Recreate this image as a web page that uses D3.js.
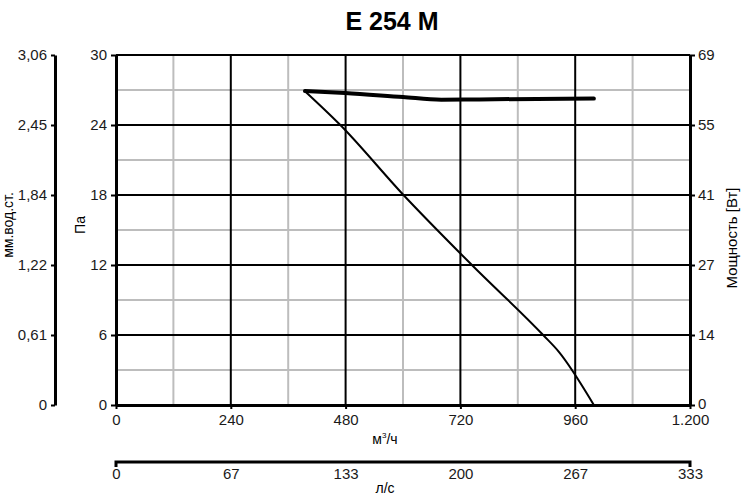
<!DOCTYPE html>
<html><head><meta charset="utf-8">
<script src="https://cdn.jsdelivr.net/npm/d3@7"></script>
<style>body{margin:0;background:#fff}svg{display:block}text{font-family:"Liberation Sans",Arial,sans-serif}</style>
</head><body><svg id="c" width="750" height="504"></svg>
<script>
const title = "E 254 M";
const flowTicks = [0, 240, 480, 720, 960, 1200];
const flowLabels = ["0", "240", "480", "720", "960", "1.200"];
const lsLabels = ["0", "67", "133", "200", "267", "333"];
const paTicks = [0, 6, 12, 18, 24, 30];
const mmLabels = ["0", "0,61", "1,22", "1,84", "2,45", "3,06"];
const wLabels = ["0", "14", "27", "41", "55", "69"];
const pressureQ = [395, 469, 601, 744, 893, 925, 999];
const pressureP = [26.9, 24, 18, 12, 6, 4.6, 0];
const powerQ = [395, 479, 600, 680, 760, 880, 999];
const powerW = [61.9, 61.5, 60.7, 60.2, 60.25, 60.35, 60.4];

const svg = d3.select("#c");
const L = 116, R = 690, T = 55, B = 405;
const x = d3.scaleLinear().domain([0, 1200]).range([L, R]);
const y = d3.scaleLinear().domain([0, 30]).range([B, T]);
const yW = d3.scaleLinear().domain([0, 69]).range([B, T]);

// minor grid
const minorX = d3.range(120, 1200, 240), minorY = d3.range(3, 30, 6);
svg.append("g").selectAll("line").data(minorX).join("line")
  .attr("x1", d => x(d)).attr("x2", d => x(d)).attr("y1", T).attr("y2", B)
  .attr("stroke", "#bdbdbd").attr("stroke-width", 2);
svg.append("g").selectAll("line").data(minorY).join("line")
  .attr("y1", d => y(d)).attr("y2", d => y(d)).attr("x1", L).attr("x2", R)
  .attr("stroke", "#bdbdbd").attr("stroke-width", 2);
// major grid
svg.append("g").selectAll("line").data(flowTicks.slice(1, -1)).join("line")
  .attr("x1", d => x(d)).attr("x2", d => x(d)).attr("y1", T).attr("y2", B)
  .attr("stroke", "#000").attr("stroke-width", 2);
svg.append("g").selectAll("line").data(paTicks.slice(1)).join("line")
  .attr("y1", d => y(d)).attr("y2", d => y(d)).attr("x1", L).attr("x2", R)
  .attr("stroke", "#000").attr("stroke-width", 2);

const fs = 15;
function styleAxis(g) {
  g.select(".domain").attr("stroke-width", 3);
  g.selectAll(".tick line").attr("stroke-width", 2);
  g.selectAll("text").attr("font-size", fs).attr("font-family", "Liberation Sans, Arial, sans-serif").attr("fill", "#1a1a1a");
}
// inner left Pa axis
svg.append("g").attr("transform", `translate(${L},0)`)
  .call(d3.axisLeft(y).tickValues(paTicks).tickSize(5).tickSizeOuter(0).tickPadding(4))
  .call(styleAxis);
// outer left mm axis
svg.append("g").attr("transform", `translate(55,0)`)
  .call(d3.axisLeft(y).tickValues(paTicks).tickFormat((d, i) => mmLabels[i]).tickSize(4).tickSizeOuter(0).tickPadding(4))
  .call(styleAxis);
// right W axis
const wTicks = paTicks.map(p => p / 30 * 69);
svg.append("g").attr("transform", `translate(${R},0)`)
  .call(d3.axisRight(yW).tickValues(wTicks).tickFormat((d, i) => wLabels[i]).tickSize(5).tickSizeOuter(0).tickPadding(3))
  .call(styleAxis)
  .call(g => g.selectAll(".tick text").filter(d => d === 0).attr("dy", "0.2em"));
// bottom flow axis
svg.append("g").attr("transform", `translate(0,${B})`)
  .call(d3.axisBottom(x).tickValues(flowTicks).tickFormat((d, i) => flowLabels[i]).tickSize(4).tickSizeOuter(0).tickPadding(5))
  .call(styleAxis);
// l/s axis
const xs = d3.scaleLinear().domain([0, 1200 / 3.6]).range([L, R]);
const lsTicks = flowTicks.map(q => q / 3.6);
const lsAxis = svg.append("g").attr("transform", `translate(0,462)`)
  .call(d3.axisBottom(xs).tickValues(lsTicks).tickFormat((d, i) => lsLabels[i]).tickSize(0).tickSizeOuter(0).tickPadding(6))
  .call(styleAxis);
lsAxis.select(".domain").remove();
lsAxis.append("path")
  .attr("d", d3.line()([[xs(0), 5], [xs(0), 0], [xs(1200 / 3.6), 0], [xs(1200 / 3.6), 5]]))
  .attr("fill", "none").attr("stroke", "#000").attr("stroke-width", 3);

// curves
const pData = pressureQ.map((q, i) => [q, pressureP[i]]);
const wData = powerQ.map((q, i) => [q, powerW[i]]);
svg.append("path").datum(pData)
  .attr("d", d3.line().x(d => x(d[0])).y(d => y(d[1])).curve(d3.curveMonotoneX))
  .attr("fill", "none").attr("stroke", "#000").attr("stroke-width", 2);
svg.append("path").datum(wData)
  .attr("d", d3.line().x(d => x(d[0])).y(d => yW(d[1])).curve(d3.curveMonotoneX))
  .attr("fill", "none").attr("stroke", "#000").attr("stroke-width", 4).attr("stroke-linecap", "round");

// labels
svg.append("text").attr("x", 392).attr("y", 30).attr("text-anchor", "middle")
  .attr("font-size", 25).attr("font-weight", "bold").text(title);
svg.append("text").attr("transform", "translate(13,225) rotate(-90)").attr("text-anchor", "middle")
  .attr("font-size", 14).text("мм.вод.ст.");
svg.append("text").attr("transform", "translate(85,225) rotate(-90)").attr("text-anchor", "middle")
  .attr("font-size", 14).text("Па");
svg.append("text").attr("transform", "translate(737,238) rotate(-90)").attr("text-anchor", "middle")
  .attr("font-size", 15).text("Мощность [Вт]");
const t1 = svg.append("text").attr("x", 385).attr("y", 444).attr("text-anchor", "middle").attr("font-size", 14);
t1.append("tspan").text("м");
t1.append("tspan").attr("font-size", 8).attr("dy", -6).text("3");
t1.append("tspan").attr("dy", 6).text("/ч");
svg.append("text").attr("x", 385).attr("y", 493).attr("text-anchor", "middle").attr("font-size", 14).text("л/с");
</script></body></html>
